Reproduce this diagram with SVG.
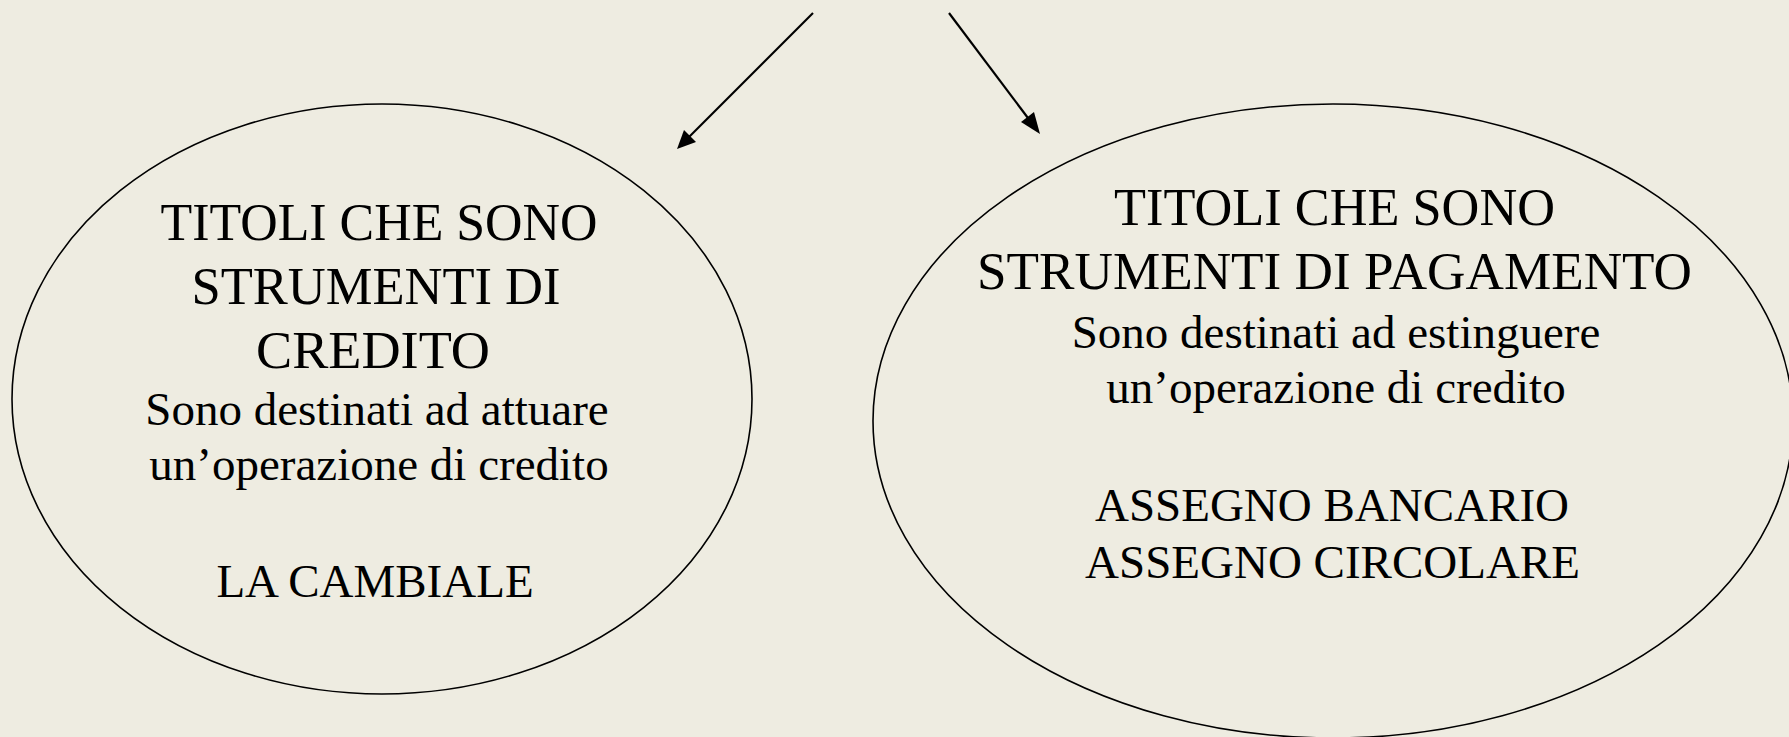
<svg xmlns="http://www.w3.org/2000/svg" width="1789" height="737" viewBox="0 0 1789 737">
<style>
.bg{fill:#EEECE1}
.node ellipse{fill:none;stroke:#000;stroke-width:1.6}
.t{fill:#000;text-anchor:middle}
.h{font-size:53px}
.b{font-size:47px}
.conn line{stroke:#000;stroke-width:2.2}
</style>
<defs>
<marker id="ah" viewBox="0 0 10 10" refX="10" refY="5" markerWidth="7.5" markerHeight="7.5" markerUnits="userSpaceOnUse" orient="auto">
<path d="M0,0 L10,5 L0,10 z" fill="#000"/>
</marker>
</defs>
<rect class="bg" x="0" y="0" width="1789" height="737"/>
<g id="connectors" class="conn">
<line x1="813" y1="13" x2="684" y2="142"/>
<path d="M677,149 L684,130 L696,142 z" fill="#000"/>
<line x1="949" y1="13" x2="1034" y2="126"/>
<path d="M1040,134 L1021,122 L1034,112 z" fill="#000"/>
</g>
<g font-family="Liberation Serif, Times New Roman, Tinos, DejaVu Serif, serif">
<g id="node-credito" class="node">
<ellipse cx="382" cy="399" rx="370" ry="295"/>
<text class="t h" x="379" y="240" textLength="437" lengthAdjust="spacingAndGlyphs">TITOLI CHE SONO</text>
<text class="t h" x="376" y="303.5" textLength="369" lengthAdjust="spacingAndGlyphs">STRUMENTI DI</text>
<text class="t h" x="373" y="368" textLength="234" lengthAdjust="spacingAndGlyphs">CREDITO</text>
<text class="t b" x="377" y="425">Sono destinati ad attuare</text>
<text class="t b" x="379" y="480">un’operazione di credito</text>
<text class="t b" x="375" y="597">LA CAMBIALE</text>
</g>
<g id="node-pagamento" class="node">
<ellipse cx="1333" cy="421" rx="460" ry="317"/>
<text class="t h" x="1334.5" y="225" textLength="441" lengthAdjust="spacingAndGlyphs">TITOLI CHE SONO</text>
<text class="t h" x="1334.5" y="289" textLength="715" lengthAdjust="spacingAndGlyphs">STRUMENTI DI PAGAMENTO</text>
<text class="t b" x="1336" y="348">Sono destinati ad estinguere</text>
<text class="t b" x="1336" y="403">un’operazione di credito</text>
<text class="t b" x="1332" y="521">ASSEGNO BANCARIO</text>
<text class="t b" x="1332.5" y="578">ASSEGNO CIRCOLARE</text>
</g>
</g>
</svg>
